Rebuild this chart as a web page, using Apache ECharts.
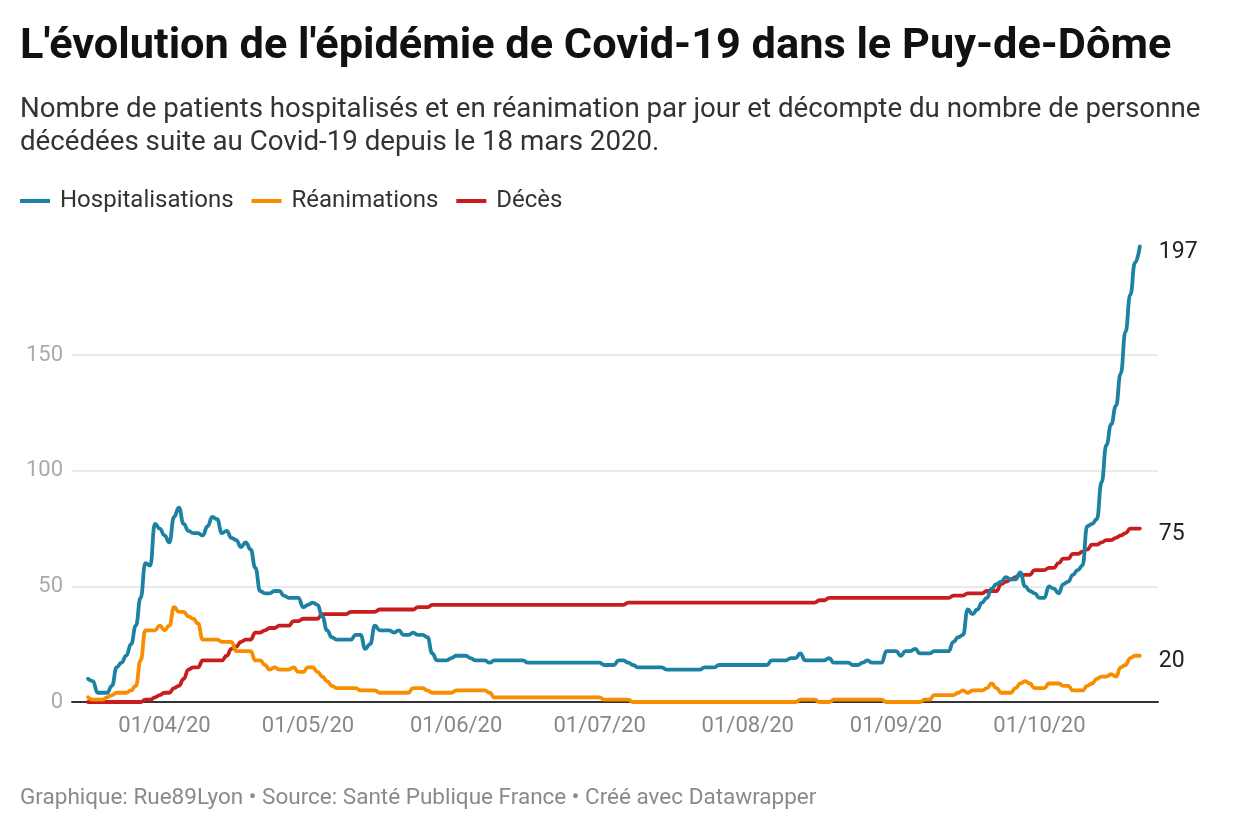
<!DOCTYPE html>
<html>
<head>
<meta charset="utf-8">
<script src="https://cdn.jsdelivr.net/npm/echarts@6/dist/echarts.min.js"></script>
<style>
html,body{margin:0;padding:0;background:#fff;}
#chart{width:1240px;height:840px;}
</style>
</head>
<body>
<div id="chart"></div>
<script>
// Day 0 = 16/03/2020, one value per day
const startDate = '2020-03-16';
const hospitalisations = [
 10, 9, 4, 4, 4, 7, 15, 17, 20, 25,
 33, 45, 60, 59, 77, 75, 72, 69, 80, 84,
 77, 74, 73, 73, 72, 76, 80, 79, 73, 74,
 71, 70, 67, 69, 66, 58, 48, 47, 47, 48,
 48, 46, 45, 45, 45, 41, 42, 43, 42, 37,
 31, 28, 27, 27, 27, 27, 29, 29, 23, 25,
 33, 31, 31, 31, 30, 31, 29, 29, 30, 29,
 29, 28, 21, 18, 18, 18, 19, 20, 20, 20,
 19, 18, 18, 18, 17, 18, 18, 18, 18, 18,
 18, 18, 17, 17, 17, 17, 17, 17, 17, 17,
 17, 17, 17, 17, 17, 17, 17, 17, 16, 16,
 16, 18, 18, 17, 16, 15, 15, 15, 15, 15,
 15, 14, 14, 14, 14, 14, 14, 14, 14, 15,
 15, 15, 16, 16, 16, 16, 16, 16, 16, 16,
 16, 16, 16, 18, 18, 18, 18, 19, 19, 21,
 18, 18, 18, 18, 18, 19, 17, 17, 17, 17,
 16, 16, 17, 18, 17, 17, 17, 22, 22, 22,
 20, 22, 22, 23, 21, 21, 21, 22, 22, 22,
 22, 26, 28, 29, 40, 38, 40, 43, 45, 49,
 51, 52, 54, 53, 53, 56, 50, 48, 47, 45,
 45, 50, 49, 47, 51, 52, 55, 57, 59, 76,
 77, 79, 95, 111, 120, 128, 142, 160, 176, 190,
 197
];
const reanimations = [
 2, 1, 1, 1, 2, 3, 4, 4, 4, 5,
 7, 18, 31, 31, 31, 33, 31, 33, 41, 39,
 39, 37, 36, 34, 27, 27, 27, 27, 26, 26,
 26, 22, 22, 22, 22, 18, 18, 16, 14, 15,
 14, 14, 14, 15, 13, 13, 15, 15, 13, 11,
 9, 7, 6, 6, 6, 6, 6, 5, 5, 5,
 5, 4, 4, 4, 4, 4, 4, 4, 6, 6,
 6, 5, 4, 4, 4, 4, 4, 5, 5, 5,
 5, 5, 5, 5, 4, 2, 2, 2, 2, 2,
 2, 2, 2, 2, 2, 2, 2, 2, 2, 2,
 2, 2, 2, 2, 2, 2, 2, 2, 1, 1,
 1, 1, 1, 1, 0, 0, 0, 0, 0, 0,
 0, 0, 0, 0, 0, 0, 0, 0, 0, 0,
 0, 0, 0, 0, 0, 0, 0, 0, 0, 0,
 0, 0, 0, 0, 0, 0, 0, 0, 0, 1,
 1, 1, 1, 0, 0, 0, 1, 1, 1, 1,
 1, 1, 1, 1, 1, 1, 1, 0, 0, 0,
 0, 0, 0, 0, 0, 1, 1, 3, 3, 3,
 3, 3, 4, 5, 4, 5, 5, 5, 6, 8,
 6, 4, 4, 4, 6, 8, 9, 8, 6, 6,
 6, 8, 8, 8, 7, 7, 5, 5, 5, 7,
 8, 10, 11, 11, 12, 11, 15, 16, 19, 20,
 20
];
const deces = [
 0, 0, 0, 0, 0, 0, 0, 0, 0, 0,
 0, 0, 1, 1, 2, 3, 4, 4, 6, 7,
 10, 14, 15, 15, 18, 18, 18, 18, 18, 20,
 23, 24, 26, 27, 27, 30, 30, 31, 32, 32,
 33, 33, 33, 35, 35, 36, 36, 36, 36, 38,
 38, 38, 38, 38, 38, 39, 39, 39, 39, 39,
 39, 40, 40, 40, 40, 40, 40, 40, 40, 41,
 41, 41, 42, 42, 42, 42, 42, 42, 42, 42,
 42, 42, 42, 42, 42, 42, 42, 42, 42, 42,
 42, 42, 42, 42, 42, 42, 42, 42, 42, 42,
 42, 42, 42, 42, 42, 42, 42, 42, 42, 42,
 42, 42, 42, 43, 43, 43, 43, 43, 43, 43,
 43, 43, 43, 43, 43, 43, 43, 43, 43, 43,
 43, 43, 43, 43, 43, 43, 43, 43, 43, 43,
 43, 43, 43, 43, 43, 43, 43, 43, 43, 43,
 43, 43, 43, 44, 44, 45, 45, 45, 45, 45,
 45, 45, 45, 45, 45, 45, 45, 45, 45, 45,
 45, 45, 45, 45, 45, 45, 45, 45, 45, 45,
 45, 46, 46, 46, 47, 47, 47, 47, 48, 48,
 48, 51, 52, 53, 54, 55, 55, 55, 57, 57,
 57, 58, 58, 60, 62, 62, 64, 64, 65, 66,
 68, 68, 69, 70, 70, 71, 72, 73, 75, 75,
 75
];
const seriesNames = ['Hospitalisations', 'Réanimations', 'Décès'];
const seriesColors = ['#1d81a2', '#fa8c00', '#c71e1d'];
const tickDates = ['2020-04-01', '2020-05-01', '2020-06-01', '2020-07-01', '2020-08-01', '2020-09-01', '2020-10-01'];
const gridValues = [50, 100, 150];

const DAY = 86400000;
const t0 = Date.parse(startDate + 'T00:00:00Z');
const tickDays = tickDates.map(d => Math.round((Date.parse(d + 'T00:00:00Z') - t0) / DAY));
function fmt(day) {
  const d = new Date(t0 + day * DAY);
  const dd = String(d.getUTCDate()).padStart(2, '0');
  const mm = String(d.getUTCMonth() + 1).padStart(2, '0');
  const yy = String(d.getUTCFullYear()).slice(2);
  return dd + '/' + mm + '/' + yy;
}
const toPairs = arr => arr.map((v, i) => [i, v]);
const allData = [hospitalisations, reanimations, deces];

const chart = echarts.init(document.getElementById('chart'), null, {renderer: 'canvas'});
const FONT = 'Roboto';

const series = allData.map((arr, k) => ({
  name: seriesNames[k],
  type: 'line',
  data: toPairs(arr),
  showSymbol: false,
  symbol: 'none',
  smooth: 0.5,
  smoothMonotone: 'x',
  z: 10 - k,
  lineStyle: {width: 3.8, color: seriesColors[k], cap: 'round', join: 'round'},
  itemStyle: {color: seriesColors[k]},
  endLabel: {
    show: true,
    formatter: p => String(p.value[1]),
    color: '#222',
    fontFamily: FONT,
    fontSize: 23,
    distance: 19,
    offset: [0, 6]
  },
  emphasis: {disabled: true},
  markLine: k === 0 ? {
    silent: true,
    symbol: 'none',
    label: {show: false},
    lineStyle: {color: '#e3e3e3', width: 1.5, type: 'solid'},
    data: gridValues.map(v => ({yAxis: v})),
    z: 1
  } : undefined
}));

chart.setOption({
  animation: false,
  backgroundColor: '#ffffff',
  textStyle: {fontFamily: FONT},
  title: [
    {
      text: "L'évolution de l'épidémie de Covid-19 dans le Puy-de-Dôme",
      left: 20, top: 22, padding: 0,
      textStyle: {fontFamily: FONT, fontWeight: 'bold', fontSize: 43.3, lineHeight: 50, color: '#111'}
    },
    {
      text: 'Nombre de patients hospitalisés et en réanimation par jour et décompte du nombre de personne\ndécédées suite au Covid-19 depuis le 18 mars 2020.',
      left: 20, top: 94, padding: 0,
      textStyle: {fontFamily: FONT, fontWeight: 'normal', fontSize: 27.7, lineHeight: 33, color: '#333'}
    },
    {
      text: 'Graphique: Rue89Lyon • Source: Santé Publique France • Créé avec Datawrapper',
      left: 20, top: 786, padding: 0,
      textStyle: {fontFamily: FONT, fontWeight: 'normal', fontSize: 22.5, lineHeight: 24, color: '#8a8a8a'}
    }
  ],
  legend: {
    left: 20, top: 189, padding: 0,
    icon: 'rect',
    itemWidth: 30, itemHeight: 4,
    itemGap: 18,
    selectedMode: false,
    textStyle: {fontFamily: FONT, fontSize: 24, color: '#333', padding: [0, 0, 0, 5]},
    data: seriesNames
  },
  grid: {left: 72, right: 82, top: 239.4, bottom: 138, containLabel: false},
  xAxis: {
    type: 'value',
    min: -3.35,
    max: 223.8,
    axisLine: {show: true, onZero: false, lineStyle: {color: '#333', width: 2}},
    axisTick: {show: false},
    splitLine: {show: false},
    axisLabel: {
      customValues: tickDays,
      formatter: v => fmt(v),
      color: '#888',
      fontFamily: FONT,
      fontSize: 22,
      margin: 13
    }
  },
  yAxis: {
    type: 'value',
    min: 0, max: 200, interval: 50,
    axisLine: {show: false},
    axisTick: {show: false},
    splitLine: {show: false},
    axisLabel: {
      showMaxLabel: false,
      color: '#aaa',
      fontFamily: FONT,
      fontSize: 22,
      margin: 9
    }
  },
  series: series
});
</script>
</body>
</html>
